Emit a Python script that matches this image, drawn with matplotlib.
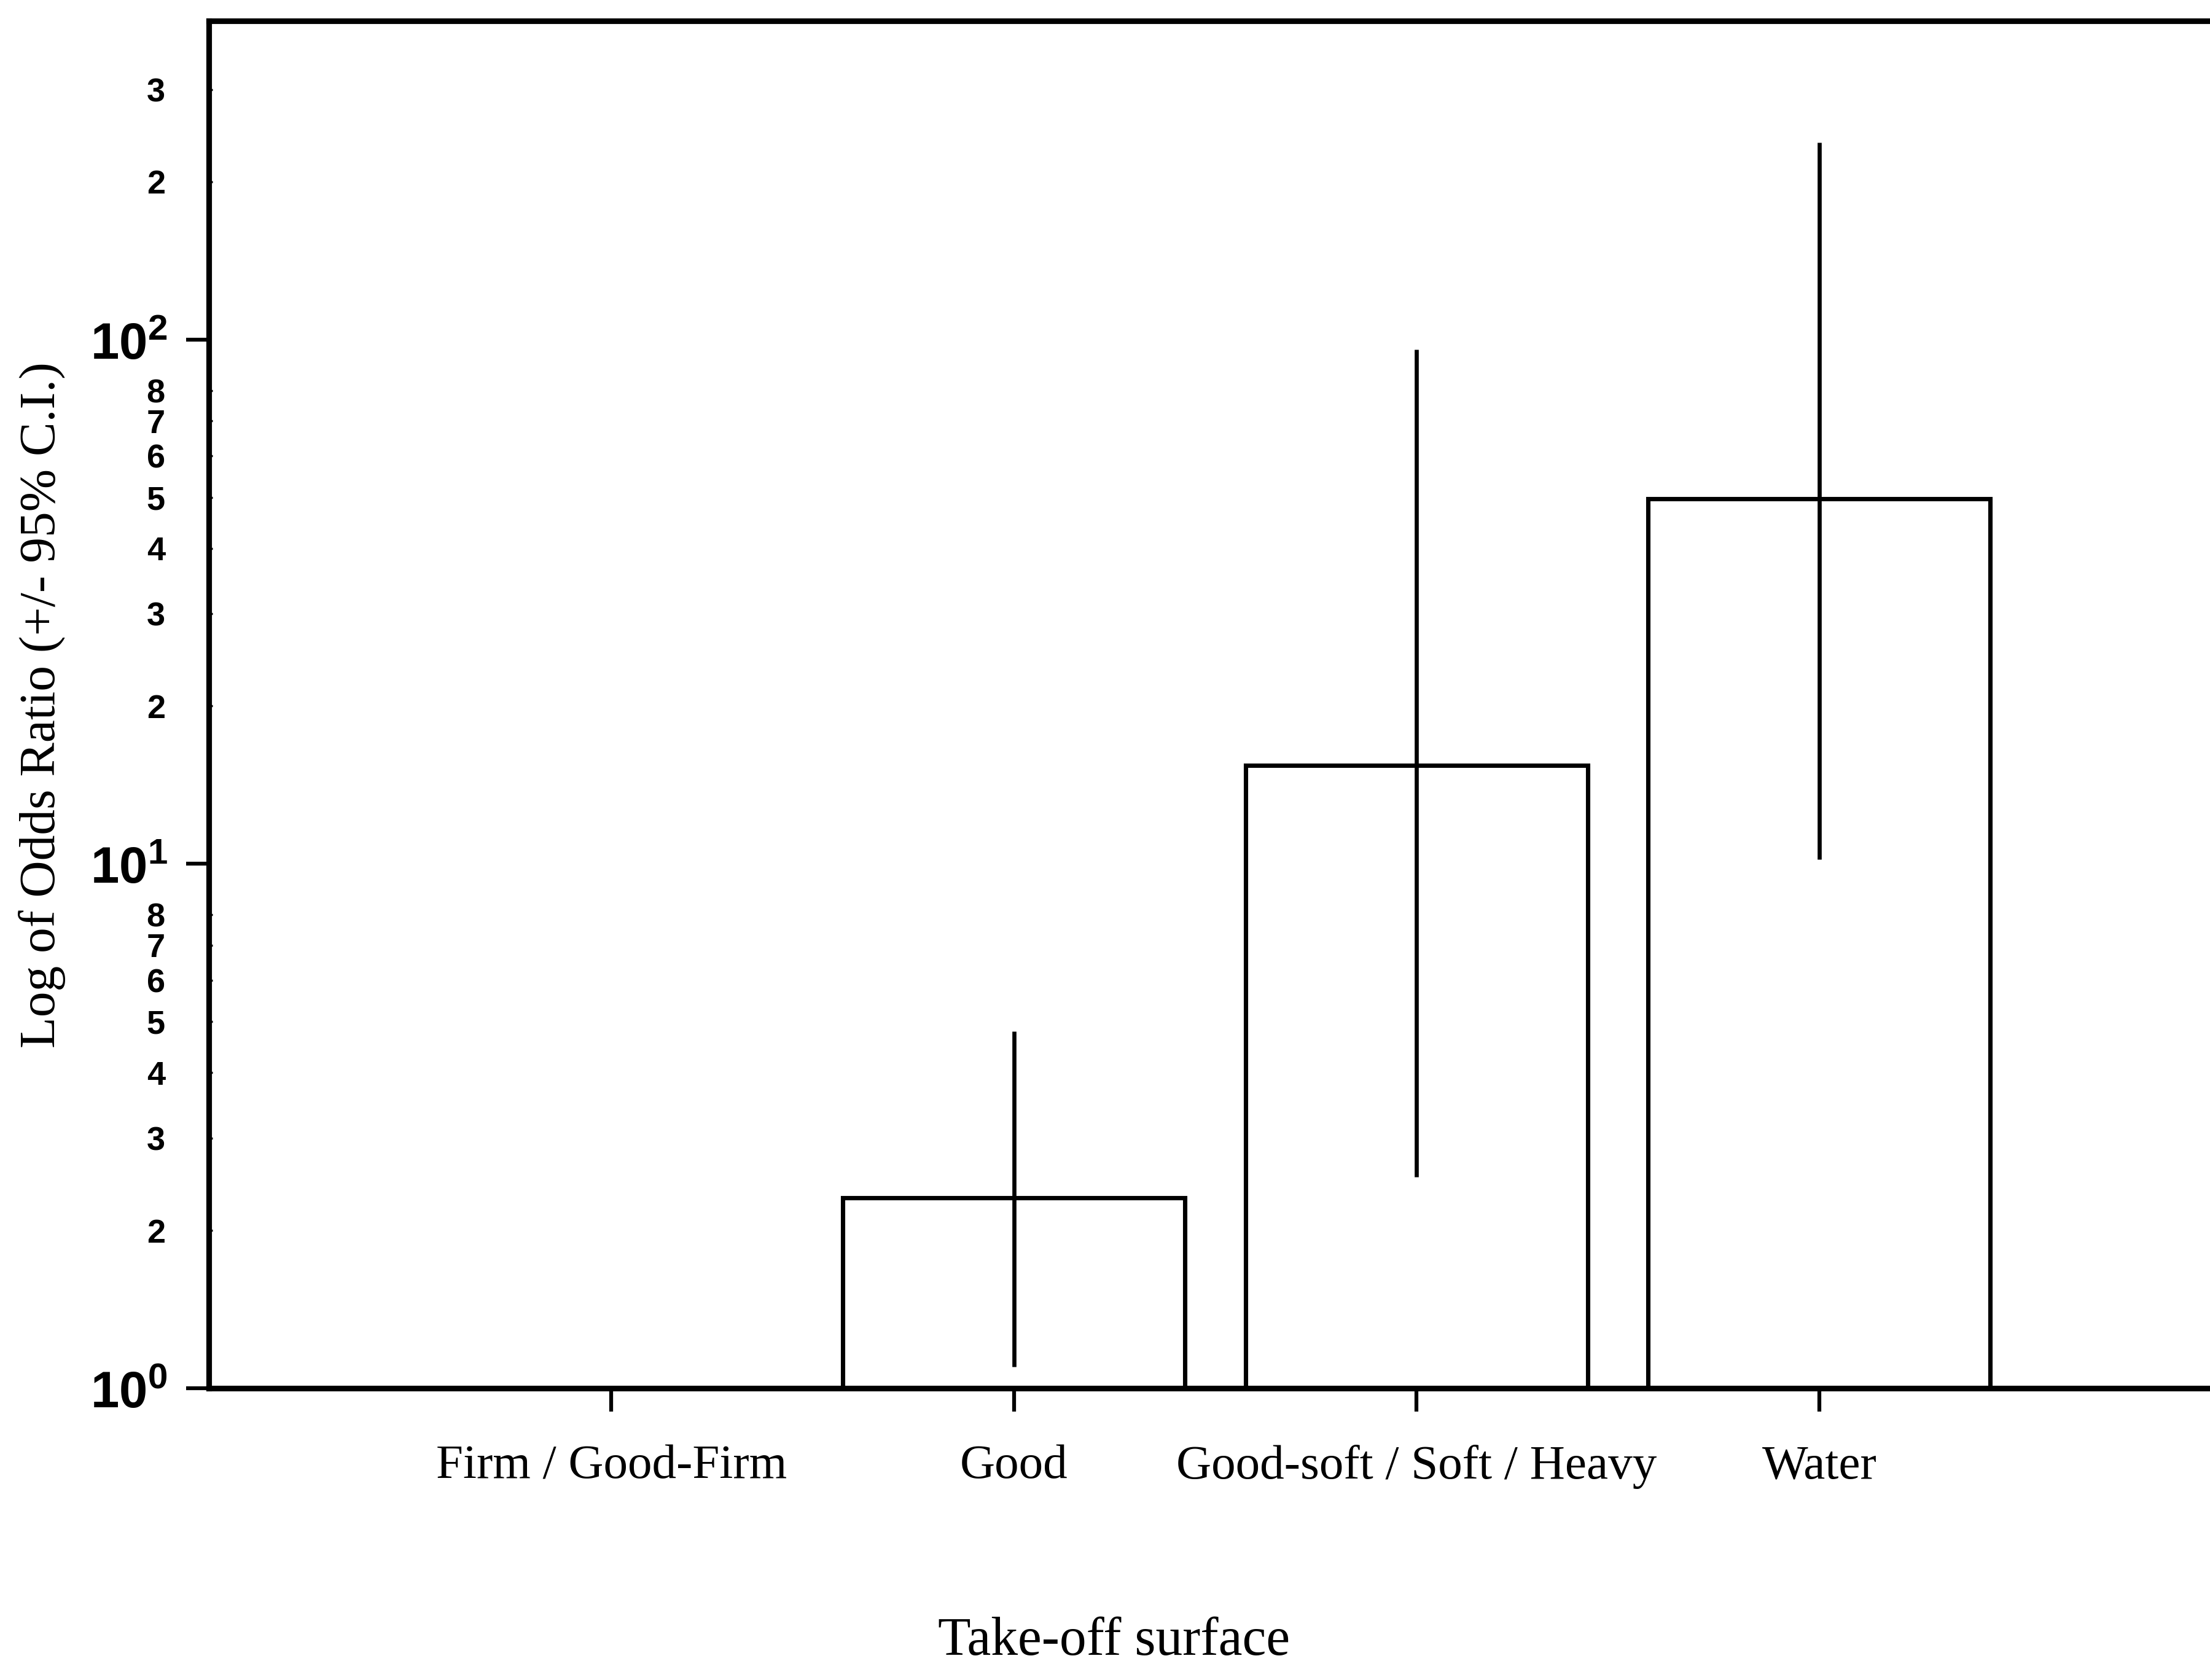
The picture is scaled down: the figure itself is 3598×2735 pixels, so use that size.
import matplotlib
matplotlib.use('Agg')
import matplotlib.pyplot as plt
import numpy as np

# data (odds ratios, log scale)
surfaces = ['Firm / Good-Firm', 'Good', 'Good-soft / Soft / Heavy', 'Water']
odds = [1.0, 2.31, 15.4, 49.7]
ci_low = [np.nan, 1.10, 2.53, 10.2]
ci_high = [np.nan, 4.79, 95.8, 238.0]

major_ticks = [1, 10, 100]
major_labels = [r'$\mathbf{10^{0}}$', r'$\mathbf{10^{1}}$', r'$\mathbf{10^{2}}$']
minor_ticks = [2, 3, 4, 5, 6, 7, 8, 20, 30, 40, 50, 60, 70, 80, 200, 300]
minor_labels = ['2', '3', '4', '5', '6', '7', '8',
                '2', '3', '4', '5', '6', '7', '8', '2', '3']

plt.rcParams['mathtext.fontset'] = 'custom'
plt.rcParams['mathtext.bf'] = 'Liberation Sans:bold'
plt.rcParams['mathtext.rm'] = 'Liberation Sans'

fig = plt.figure(figsize=(3598 / 300, 2735 / 300), dpi=300)
ax = fig.add_axes([0.0944, 0.1737, 0.911, 0.8137])

x = np.arange(len(surfaces))
ax.bar(x, odds, width=0.85, color='white', edgecolor='black', linewidth=1.7)

lo = np.array(odds) - np.array(ci_low)
hi = np.array(ci_high) - np.array(odds)
ax.errorbar(x, odds, yerr=[lo, hi], fmt='none', ecolor='black',
            elinewidth=1.6, capsize=0)

ax.set_yscale('log')
ax.set_ylim(1, 405)
ax.set_xlim(-1, 4)

ax.set_yticks(major_ticks)
ax.set_yticklabels(major_labels, fontsize=20)
ax.set_yticks(minor_ticks, minor=True)
ax.set_yticklabels(minor_labels, minor=True, fontsize=13,
                   fontweight='bold', family='Liberation Sans')
ax.tick_params(axis='y', which='major', direction='out', length=9,
               width=1.5, pad=7)
ax.tick_params(axis='y', which='minor', direction='in', length=1.5,
               width=0.8, pad=17)

ax.set_xticks(x)
ax.set_xticklabels(surfaces, fontsize=19, family='Liberation Serif')
ax.tick_params(axis='x', direction='out', length=9, width=1.5, pad=13)

for s in ax.spines.values():
    s.set_linewidth(2.2)

ax.set_ylabel('Log of Odds Ratio (+/- 95% C.I.)', fontsize=20,
              family='Liberation Serif')
ax.yaxis.set_label_coords(-0.071, 0.5)
fig.text(0.504, 0.0227, 'Take-off surface', fontsize=21,
         family='Liberation Serif', ha='center', va='center')

fig.savefig('out.png', dpi=300)
